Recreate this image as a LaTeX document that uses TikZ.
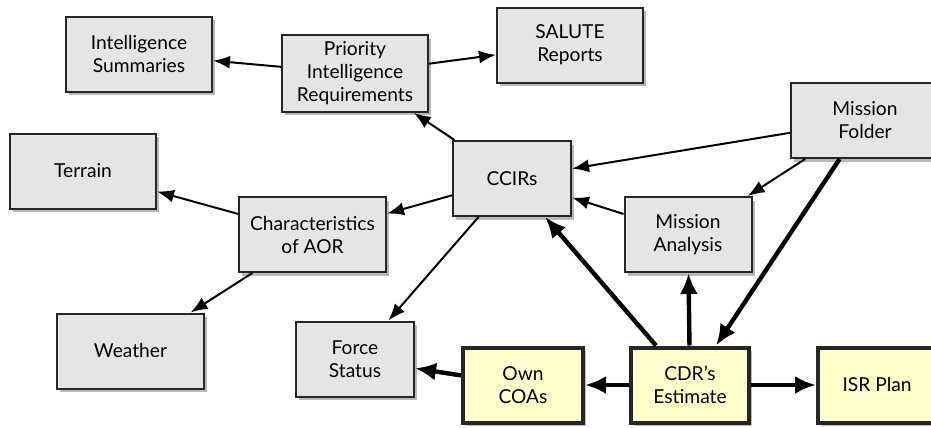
\documentclass[tikz,border=0pt]{standalone}
\usepackage{fontspec}
\setmainfont{Lato}
\usetikzlibrary{arrows.meta,shadows}
\definecolor{boxgray}{RGB}{229,229,229}
\definecolor{boxyel}{RGB}{255,255,204}
\tikzset{
  blk/.style={rectangle, draw=black!85, line width=1pt, fill=boxgray,
              minimum height=37.5pt, align=center, font=\fontsize{9.6}{11.5}\selectfont,
              drop shadow={shadow xshift=1.5pt, shadow yshift=-1.8pt, fill=black!50, opacity=0.55}},
  est/.style={blk, fill=boxyel, line width=2pt},
  ar/.style={-{Latex[length=8.5pt,width=6.5pt]}, line width=1pt},
  arb/.style={-{Latex[length=10.5pt,width=9pt]}, line width=2.2pt},
}

\begin{document}
\begin{tikzpicture}[x=0.5pt,y=-0.5pt]
\useasboundingbox (0,0) rectangle (931,428);
\clip (0,0) rectangle (931,428);
% upper row
\node[blk, minimum width=73pt] (sum) at (139,54) {Intelligence\\Summaries};
\node[blk, minimum width=73pt] (pir) at (355,73.5) {Priority\\Intelligence\\Requirements};
\node[blk, minimum width=73pt] (salute) at (570,45) {SALUTE\\Reports};
\node[blk, minimum width=74pt] (folder) at (865,120.5) {Mission\\Folder};
% middle
\node[blk, minimum width=73pt] (terrain) at (83,171) {Terrain};
\node[blk, minimum width=59pt] (ccir) at (512,178.5) {CCIRs};
\node[blk, minimum width=73.5pt] (aor) at (312.5,234.5) {Characteristics\\of AOR};
\node[blk, minimum width=63.5pt] (ma) at (688,234.5) {Mission\\Analysis};
% bottom row
\node[blk, minimum width=73.5pt] (weather) at (130.5,351) {Weather};
\node[blk, minimum width=59pt] (force) at (355,359) {Force\\Status};
\node[est, minimum width=60pt] (coa) at (523,385) {Own\\COAs};
\node[est, minimum width=59pt] (cdr) at (690,385) {CDR’s\\Estimate};
\node[est, minimum width=59pt] (isr) at (877,385) {ISR Plan};

\draw[ar] (pir)--(sum); \draw[ar] (pir)--(salute);
\draw[ar] (ccir)--(pir); \draw[ar] (ccir)--(aor); \draw[ar] (ccir)--(force);
\draw[ar] (aor)--(terrain); \draw[ar] (aor)--(weather);
\draw[ar] (folder)--(ccir); \draw[ar] (folder)--(ma);
\draw[ar] (ma)--(ccir);
\draw[arb] (folder)--(cdr);
\draw[arb] (cdr)--(ccir); \draw[arb] (cdr)--(ma);
\draw[arb] (cdr)--(coa); \draw[arb] (cdr)--(isr);
\draw[arb] (coa)--(force);
\end{tikzpicture}
\end{document}
